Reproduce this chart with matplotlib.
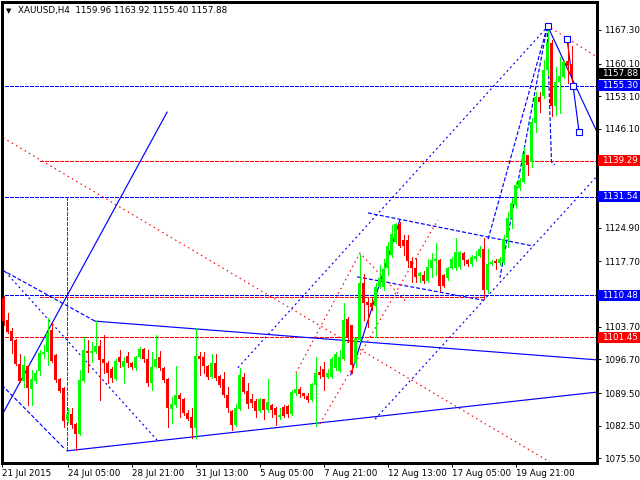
import matplotlib
matplotlib.use("Agg")
import matplotlib.pyplot as plt
import matplotlib.transforms as mtransforms
from matplotlib.patches import Rectangle
import numpy as np

plt.rcParams['font.family'] = ['DejaVu Sans']
plt.rcParams['lines.scale_dashes'] = False
plt.rcParams['patch.antialiased'] = False

# XAUUSD H4 bars (open, high, low, close), oldest first
opens = [1109.9, 1105.2, 1102.8, 1100.9, 1095.7, 1092.1, 1095.3, 1090.4, 1092.1, 1094.2,
         1097.9, 1098.3, 1103.0, 1097.7, 1092.5, 1090.6, 1083.7, 1085.0, 1082.9, 1080.7,
         1092.1, 1098.5, 1098.1, 1098.3, 1099.6, 1096.8, 1096.0, 1094.7, 1092.5, 1097.2,
         1095.1, 1097.4, 1095.9, 1094.9, 1097.2, 1099.0, 1096.8, 1091.7, 1095.1, 1097.2,
         1094.9, 1092.5, 1086.1, 1086.9, 1089.1, 1088.2, 1085.2, 1084.4, 1082.0, 1097.4,
         1097.2, 1095.3, 1092.9, 1095.9, 1093.1, 1092.5, 1089.1, 1085.7, 1082.7, 1086.1,
         1092.9, 1090.0, 1088.2, 1087.8, 1085.7, 1088.2, 1085.9, 1086.9, 1086.3, 1084.4,
         1086.5, 1086.7, 1085.0, 1089.5, 1090.4, 1089.5, 1088.9, 1088.0, 1091.2, 1094.0,
         1094.7, 1092.9, 1092.9, 1094.9, 1094.2, 1096.8, 1105.4, 1104.1, 1095.9, 1100.9,
         1113.1, 1109.0, 1108.8, 1108.1, 1112.2, 1112.2, 1116.3, 1119.1, 1121.9, 1125.7,
         1122.3, 1122.3, 1117.8, 1116.3, 1114.6, 1114.8, 1113.5, 1116.3, 1117.8, 1118.0,
         1114.8, 1114.2, 1116.3, 1116.3, 1116.5, 1119.5, 1118.0, 1117.2, 1118.2, 1118.9,
         1120.4, 1111.6, 1117.2, 1117.6, 1117.4, 1117.4, 1122.7, 1127.0, 1129.8, 1133.4,
         1134.7, 1140.5, 1139.0, 1147.4, 1152.9, 1153.2, 1158.7, 1164.5, 1151.0, 1156.2,
         1157.2, 1160.7, 1159.96]
highs = [1110.3, 1106.6, 1103.4, 1101.1, 1097.9, 1097.4, 1095.5, 1094.4, 1094.4, 1098.7,
         1099.8, 1105.6, 1104.5, 1097.9, 1092.7, 1090.8, 1086.3, 1086.3, 1083.1, 1094.4,
         1101.5, 1100.9, 1100.4, 1104.9, 1100.9, 1102.0, 1096.4, 1095.1, 1096.8, 1098.7,
         1097.2, 1098.3, 1096.1, 1097.4, 1099.4, 1099.2, 1098.7, 1098.3, 1102.0, 1098.5,
         1095.1, 1092.7, 1088.7, 1095.3, 1089.5, 1088.4, 1085.9, 1086.3, 1103.4, 1098.3,
         1098.3, 1095.5, 1097.9, 1097.9, 1093.4, 1094.0, 1090.8, 1085.9, 1087.2, 1094.9,
         1093.8, 1091.7, 1089.3, 1088.2, 1088.5, 1088.2, 1092.5, 1087.2, 1086.5, 1086.3,
         1086.9, 1086.9, 1090.2, 1093.8, 1090.8, 1089.5, 1089.5, 1091.7, 1097.2, 1095.3,
         1096.2, 1094.7, 1097.2, 1098.3, 1098.7, 1108.8, 1105.8, 1104.1, 1101.3, 1119.3,
         1115.0, 1110.1, 1110.1, 1113.1, 1117.0, 1118.2, 1121.9, 1125.5, 1126.0, 1126.2,
         1123.4, 1123.4, 1118.7, 1118.4, 1115.4, 1115.6, 1118.2, 1119.5, 1121.6, 1118.2,
         1115.0, 1116.5, 1118.7, 1122.7, 1119.9, 1119.7, 1118.2, 1119.1, 1120.0, 1121.0,
         1122.7, 1120.4, 1118.0, 1118.2, 1118.7, 1123.4, 1128.3, 1131.3, 1134.7, 1135.6,
         1142.2, 1140.5, 1148.4, 1154.0, 1154.0, 1160.9, 1168.0, 1165.2, 1159.4, 1161.5,
         1160.7, 1165.4, 1163.92]
lows = [1104.1, 1102.4, 1098.1, 1095.5, 1091.9, 1090.8, 1086.9, 1086.9, 1091.7, 1093.4,
        1097.0, 1095.5, 1096.2, 1091.9, 1089.8, 1082.2, 1083.3, 1082.0, 1077.3, 1080.5,
        1091.9, 1094.0, 1096.2, 1098.1, 1088.0, 1093.8, 1091.7, 1091.9, 1092.3, 1095.1,
        1091.7, 1095.1, 1094.7, 1094.4, 1097.0, 1096.2, 1091.0, 1090.2, 1094.9, 1094.4,
        1091.9, 1082.2, 1083.1, 1086.5, 1084.4, 1084.8, 1083.7, 1079.9, 1079.9, 1093.4,
        1093.8, 1092.5, 1092.7, 1092.3, 1090.8, 1088.7, 1085.4, 1081.6, 1082.4, 1085.9,
        1089.5, 1086.3, 1086.5, 1084.4, 1085.4, 1083.9, 1085.4, 1084.4, 1082.7, 1083.9,
        1084.4, 1084.4, 1084.8, 1089.1, 1088.7, 1088.5, 1087.6, 1087.8, 1082.4, 1092.7,
        1090.2, 1092.7, 1092.7, 1094.4, 1094.0, 1096.6, 1100.4, 1093.8, 1095.1, 1100.7,
        1105.2, 1103.6, 1107.3, 1101.5, 1112.0, 1111.6, 1114.8, 1118.7, 1121.7, 1120.8,
        1119.1, 1116.5, 1113.3, 1113.3, 1113.3, 1113.1, 1113.3, 1114.4, 1114.8, 1111.4,
        1112.2, 1113.7, 1116.1, 1115.9, 1116.1, 1117.0, 1116.7, 1116.7, 1117.8, 1118.7,
        1109.6, 1111.0, 1117.0, 1116.1, 1117.0, 1117.2, 1120.8, 1124.9, 1129.2, 1133.0,
        1134.5, 1136.2, 1138.0, 1145.4, 1149.7, 1152.7, 1157.6, 1148.9, 1149.1, 1149.5,
        1157.0, 1155.9, 1155.40]
closes = [1104.9, 1102.6, 1100.7, 1095.7, 1092.1, 1095.5, 1090.6, 1092.5, 1093.8, 1098.1,
          1098.3, 1102.4, 1096.4, 1092.3, 1090.0, 1083.5, 1085.0, 1082.7, 1080.7, 1092.3,
          1098.7, 1098.1, 1098.5, 1099.6, 1096.6, 1095.9, 1093.8, 1092.7, 1096.4, 1096.2,
          1096.4, 1095.9, 1095.1, 1097.2, 1099.0, 1096.8, 1091.7, 1095.1, 1096.8, 1094.9,
          1092.3, 1086.3, 1087.2, 1089.1, 1088.2, 1085.2, 1083.9, 1082.0, 1097.4, 1096.8,
          1095.3, 1092.9, 1095.9, 1092.7, 1091.2, 1089.1, 1086.3, 1082.7, 1086.3, 1093.4,
          1089.7, 1087.2, 1087.4, 1085.7, 1088.2, 1085.9, 1087.6, 1085.9, 1084.8, 1084.8,
          1084.6, 1085.0, 1089.7, 1090.4, 1089.3, 1088.9, 1088.0, 1091.4, 1093.8, 1093.4,
          1092.9, 1093.8, 1096.8, 1097.9, 1097.2, 1105.2, 1101.3, 1095.5, 1101.3, 1113.1,
          1108.8, 1108.4, 1107.9, 1112.2, 1114.2, 1116.1, 1121.0, 1123.6, 1125.7, 1121.0,
          1121.0, 1117.8, 1116.3, 1114.4, 1115.2, 1113.5, 1116.5, 1118.0, 1118.2, 1112.4,
          1112.4, 1116.3, 1118.2, 1119.7, 1119.7, 1118.0, 1117.2, 1118.7, 1118.9, 1120.4,
          1111.6, 1117.2, 1117.6, 1117.4, 1118.2, 1122.5, 1127.0, 1130.2, 1134.1, 1135.2,
          1140.7, 1138.4, 1147.6, 1152.9, 1151.9, 1158.7, 1164.7, 1151.0, 1156.2, 1157.4,
          1160.4, 1159.6, 1157.88]

tick_bars = [-0.3, 16, 32, 48, 64, 80, 96, 112, 128]
tick_dates = ['21 Jul 2015', '24 Jul 05:00', '28 Jul 21:00', '31 Jul 13:00', '5 Aug 05:00',
              '7 Aug 21:00', '12 Aug 13:00', '17 Aug 05:00', '19 Aug 21:00']
price_ticks = [1167.30, 1160.10, 1153.10, 1146.10, 1124.90, 1117.70,
               1103.70, 1096.70, 1089.50, 1082.50, 1075.50]

# horizontal levels: (price, start bar, end bar, colour)
levels = [(1155.30, -1, 150, 'blue'), (1131.54, -1, 150, 'blue'), (1110.48, -1, 150, 'blue'),
          (1139.29, 9.1, 150, 'red'), (1110.08, 9.1, 119.9, 'red'), (1101.45, -1, 150, 'red')]
# price labels on the right scale: (price, text, colour)
price_boxes = [(1157.88, '1157.88', 'black'), (1155.30, '1155.30', 'blue'),
               (1139.29, '1139.29', 'red'), (1131.54, '1131.54', 'blue'),
               (1110.48, '1110.48', 'blue'), (1101.45, '1101.45', 'red')]

# trend lines drawn on the chart: (bar, price) points
solid_lines = [
    [(-0.1, 1085.2), (40.9, 1149.7)],
    [(22.9, 1104.9), (148.4, 1096.6)],
    [(15.9, 1077.1), (148.4, 1089.7)],
    [(86.8, 1093.4), (99.1, 1126.6)],
    [(136.0, 1168.2), (148.4, 1145.4)],
    [(140.9, 1165.4), (142.4, 1155.3), (143.9, 1145.4)],
]
blue_dashed = [
    [(-0.4, 1115.9), (22.9, 1104.9)],
    [(-0.4, 1091.2), (15.1, 1077.7)],
    [(135.9, 1167.9), (121.1, 1122.3)],
    [(135.9, 1167.9), (124.1, 1114.2)],
    [(135.9, 1167.9), (137.0, 1139.0), (137.8, 1138.4)],
    [(91.1, 1128.1), (132.4, 1121.0)],
    [(88.4, 1114.4), (119.9, 1109.4)],
]
blue_dotted = [
    [(-0.4, 1116.3), (38.4, 1079.4)],
    [(58.6, 1094.9), (135.9, 1167.9)],
    [(92.9, 1083.9), (148.4, 1136.0)],
]
red_dotted = [
    [(-0.1, 1144.2), (136.6, 1074.7)],
    [(136.9, 1167.7), (148.4, 1161.5)],
    [(73.1, 1093.8), (89.1, 1119.5), (100.9, 1108.8)],
    [(79.1, 1082.9), (108.6, 1126.6)],
]
anchors = [(136.0, 1168.2), (140.9, 1165.4), (142.4, 1155.3), (143.9, 1145.4)]

BLUE = '#0000ff'
RED = '#ff0000'
GREEN = '#00ff00'
px = 0.72  # one pixel in points
lw = 0.85

fig = plt.figure(figsize=(6.4, 4.8), dpi=100)
ax = fig.add_axes([2 / 640, 17 / 480, 595 / 640, 461 / 480])

o = np.array(opens)
h = np.array(highs)
l = np.array(lows)
c = np.array(closes)
x = np.arange(len(o))
col = np.where(c >= o, GREEN, RED)

# levels and drawings first, candles on top
for price, x0, x1, cl in levels:
    ax.plot([x0, x1], [price, price], color=BLUE if cl == 'blue' else RED,
            lw=px, ls=(0, (4 * px, 2 * px)), antialiased=False)
ax.plot([15.9, 15.9], [1131.5, 1077.1], color=RED, lw=px, ls=(0, (4 * px, 2 * px)),
        antialiased=False)

for pts in solid_lines:
    xs, ys = zip(*pts)
    ax.plot(xs, ys, color=BLUE, lw=lw)
for pts in blue_dashed:
    xs, ys = zip(*pts)
    ax.plot(xs, ys, color=BLUE, lw=lw, ls=(0, (4 * px, 2 * px)))
for pts in blue_dotted:
    xs, ys = zip(*pts)
    ax.plot(xs, ys, color=BLUE, lw=lw, ls=(0, (2 * px, 3 * px)))
for pts in red_dotted:
    xs, ys = zip(*pts)
    ax.plot(xs, ys, color=RED, lw=lw, ls=(0, (1.5 * px, 3.5 * px)))

ax.vlines(x, l, h, colors=col, lw=px, zorder=3, antialiased=False)
body = np.maximum(np.abs(c - o), 0.3)
ax.bar(x, body, bottom=np.minimum(o, c), width=0.8, color=col, linewidth=0, zorder=4)

ax.plot([p[0] for p in anchors], [p[1] for p in anchors], ls='none', marker='s',
        ms=4.5, mfc='white', mec=BLUE, mew=0.8, zorder=5)

ax.set_xlim(-0.375, 148.375)
ax.set_ylim(1074.5, 1173.3)
ax.set_facecolor('white')
for s in ax.spines.values():
    s.set_color('black')
    s.set_linewidth(0.75)

ax.set_xticks(tick_bars)
ax.set_xticklabels(tick_dates, ha='left', fontsize=6.3)
ax.tick_params(axis='x', direction='out', length=3, width=0.7, pad=1.5)

ax.yaxis.tick_right()
ax.set_yticks(price_ticks)
ax.set_yticklabels(['%.2f' % v for v in price_ticks], fontsize=6.3)
ax.tick_params(axis='y', direction='out', length=3, width=0.7, pad=2)

trans = mtransforms.blended_transform_factory(ax.transAxes, ax.transData)
bw = 43 / 595
bh = 11 * (1173.3 - 1074.5) / 461
for price, txt, fc in price_boxes:
    ax.add_patch(Rectangle((1.0015, price - bh / 2), bw, bh, transform=trans,
                           facecolor=fc, edgecolor='none', clip_on=False, zorder=6))
    ax.text(1.0 + 5 / 595, price, txt, transform=trans, color='white', fontsize=6.3,
            va='center', ha='left', zorder=7, clip_on=False)

fig.text(6 / 640, 1 - 11 / 480, '\u25bc', fontsize=5, va='center', ha='left')
fig.text(18 / 640, 1 - 11 / 480, 'XAUUSD,H4  1159.96 1163.92 1155.40 1157.88',
         fontsize=6.3, va='center', ha='left')

fig.savefig('out.png', dpi=100, facecolor='white')
